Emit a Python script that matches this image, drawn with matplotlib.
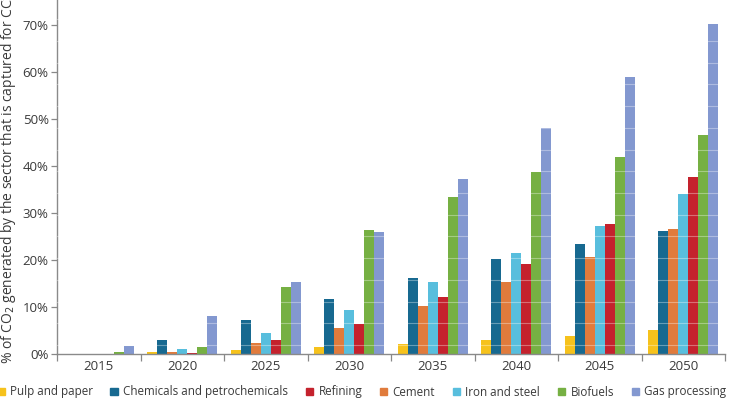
import matplotlib
matplotlib.use("Agg")
import matplotlib.pyplot as plt
import numpy as np
from matplotlib.ticker import MultipleLocator, FuncFormatter, FixedLocator
from matplotlib.patches import Patch

years = ["2015", "2020", "2025", "2030", "2035", "2040", "2045", "2050"]

# values in %, bar order within groups
pulp_and_paper = [0.0, 0.4, 0.85, 1.4, 2.1, 3.0, 3.9, 5.0]
chemicals = [0.0, 3.0, 7.2, 11.6, 16.2, 20.2, 23.4, 26.2]
cement = [0.0, 0.5, 2.3, 5.6, 10.3, 15.3, 20.7, 26.5]
iron_and_steel = [0.0, 1.1, 4.5, 9.4, 15.4, 21.4, 27.2, 34.0]
refining = [0.0, 0.3, 3.0, 6.4, 12.1, 19.1, 27.7, 37.6]
biofuels = [0.35, 1.4, 14.3, 26.4, 33.4, 38.8, 42.0, 46.5]
gas_processing = [1.7, 8.0, 15.4, 26.0, 37.2, 48.0, 59.0, 70.1]

series = [
    ("Pulp and paper", pulp_and_paper, "#F6C21C"),
    ("Chemicals and petrochemicals", chemicals, "#176990"),
    ("Cement", cement, "#E07B3C"),
    ("Iron and steel", iron_and_steel, "#58BEDD"),
    ("Refining", refining, "#C4222D"),
    ("Biofuels", biofuels, "#76B043"),
    ("Gas processing", gas_processing, "#8398D0"),
]
legend_order = ["Pulp and paper", "Chemicals and petrochemicals", "Refining",
                "Cement", "Iron and steel", "Biofuels", "Gas processing"]

plt.rcParams['font.family'] = ['Open Sans', 'DejaVu Sans']

fig = plt.figure(figsize=(7.30, 4.09), dpi=100)
ax = fig.add_axes([57/730, 55/409, 668/730, 354/409])

n = len(series)
w = 0.12
x = np.arange(len(years))
for i, (name, vals, col) in enumerate(series):
    ax.bar(x + (i - (n - 1) / 2) * w, vals, width=w, color=col, zorder=2, label=name)

ax.set_xlim(-0.5, len(years) - 0.5)
ax.set_ylim(0, 75.3)
ax.set_xticks(x)
ax.set_xticklabels(years)
ax.xaxis.set_minor_locator(FixedLocator(np.arange(len(years) + 1) - 0.5))
ax.tick_params(axis='x', which='major', length=0, labelsize=9.5, colors='#3a3a3a', pad=4)
ax.tick_params(axis='x', which='minor', length=5, color='#888888', width=0.9)
ax.yaxis.set_major_locator(MultipleLocator(10))
ax.yaxis.set_major_formatter(FuncFormatter(lambda v, p: f"{v:.0f}%"))
ax.tick_params(axis='y', length=4, color='#888888', width=0.9, labelsize=9.5, colors='#3a3a3a', pad=2)
ax.tick_params(axis='y', which='major', color='#888888')

for s in ['top', 'right']:
    ax.spines[s].set_visible(False)
for s in ['left', 'bottom']:
    ax.spines[s].set_color('#8a8a8a')
    ax.spines[s].set_linewidth(1.0)

# faint white lines over bars
ax.yaxis.set_minor_locator(MultipleLocator(4.62, offset=1.9))
ax.grid(axis='y', which='minor', color='white', linewidth=0.8, alpha=0.35, zorder=3)
ax.tick_params(axis='y', which='minor', length=0)
ax.set_axisbelow(False)

fig.text(9/730, 0.566, "% of CO$_2$ generated by the sector that is captured for CCS",
         rotation=90, ha='center', va='center', fontsize=10, color='#3a3a3a')

handles = {name: Patch(color=col) for name, _, col in series}
leg = fig.legend([handles[nm] for nm in legend_order], legend_order,
                 loc='center left', bbox_to_anchor=(-0.004, 17/409), ncol=7, frameon=False,
                 fontsize=8.4, handlelength=0.65, handleheight=0.65, handletextpad=0.45,
                 columnspacing=1.5, borderaxespad=0, borderpad=0, labelcolor='#3a3a3a')

fig.savefig("out.png", dpi=100)
